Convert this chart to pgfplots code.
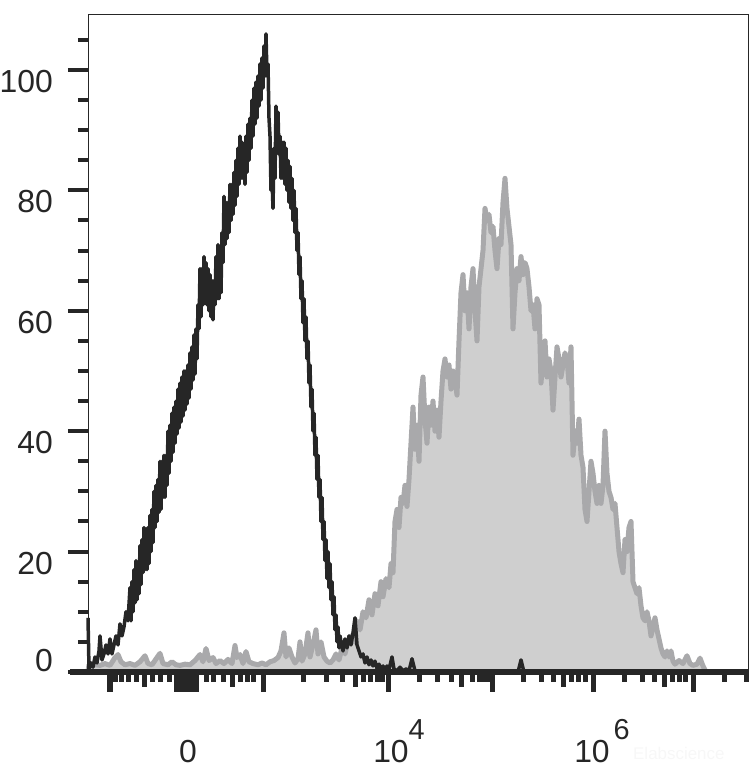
\documentclass[border=0pt]{standalone}
\usepackage{fontspec}
\setmainfont{Liberation Sans}
\usepackage{pgfplots}
\pgfplotsset{compat=1.18}
\definecolor{ink}{HTML}{262626}
\definecolor{gline}{HTML}{A9A9AB}
\definecolor{gfill}{HTML}{CFCFCF}
\begin{document}
\begin{tikzpicture}
\useasboundingbox (0,0) rectangle (756bp,780bp);
\begin{axis}[
  at={(88bp,108bp)}, anchor=south west,
  scale only axis, width=660bp, height=658bp,
  xmin=88, xmax=748, ymin=0, ymax=109.3,
  clip=false,
  axis line style={line width=0.8bp, color=ink},
  tick align=outside, xtick pos=bottom, ytick pos=left,
  tick style={line width=4.5bp, color=ink},
  xtick style={line width=5bp, color=ink},
  ytick style={line width=4bp, color=ink},
  major tick length=20bp, minor tick length=10bp,
  xtick={110,176,180,184,188,192,196,263,388,492,593,693},
  minor xtick={115,121,128,136,152,160,169,178,182,186,190,194,206,213,223,240,247,253,303,326,342,363,370,377,382,419,437,451,472,479,484,488,523,541,553,571,578,585,624,642,654,672,679,685,724,746},
  extra x ticks={144,232,355,461,563,664},
  extra x tick style={major tick length=15bp, xtick style={line width=5bp, color=ink}},
  extra x tick labels={},
  xticklabels={},
  ytick={0,20,40,60,80,100},
  minor ytick={5,10,15,25,30,35,45,50,55,65,70,75,85,90,95,105},
  yticklabels={},
]
% grey filled histogram
\addplot[draw=gline, fill=gfill, line width=5bp, line join=round] table {
x y
88 0
89 1.2
92 1.4
95 1.2
100 1.1
105 1.4
110 1.1
115 2.4
118 2.9
121 1.7
125 1.2
130 1.4
135 1.1
140 1.7
145 2.7
148 1.4
152 1.2
157 2.4
160 3.1
163 1.4
168 1.2
172 1.7
176 1.2
180 1.1
185 1.3
190 1.2
195 1.9
200 2.9
203 1.7
206 3.9
209 1.9
213 2.4
216 1.4
220 1.9
224 1.4
228 2.1
232 1.4
235 4.4
237 2.4
240 2.9
243 1.4
246 3.4
249 1.7
253 1.4
258 1.2
262 1.5
266 1.2
270 1.7
274 1.9
278 2.4
281 3.5
284 6.5
286 2.5
289 4
292 2.5
295 1.5
298 2.2
300 5
302 1.8
305 3
308 6.5
310 2.5
313 4.5
316 7
318 3
321 5
324 2.5
327 1.8
330 1.5
333 2
336 3
339 2
342 4
345 3
348 5
351 6
354 5
357 8.5
360 7
363 10
366 9
369 12
372 9.5
375 13
378 11
381 15
383 12.5
386 15.5
389 14
391 18
393 16.5
395 25
397 27
399 24
401 29
403 28
405 31
407 27.5
409 32
411 38
413 44
415 37
417 41
419 35
421 46
423 49
425 42
427 38
429 44
431 41
433 45
435 40
437 43.5
439 39
441 45
443 50
445 52
447 49
449 51
451 47
453 50
455 48.5
457 46
459 55
461 63
463 66
465 60
467 63
469 57
471 64
473 67
475 60
477 55
479 64
481 67
483 70
485 77
487 75
489 76
491 73
493 74
495 70
497 67
499 72
501 71
503 78
505 82
507 77
509 74
511 71
513 57
515 63
517 67
519 65
521 69
523 66
525 68
527 67
529 64
531 60
533 61
535 57
537 62
539 61
541 48
543 52
545 55
547 49
549 52
551 50
553 43.5
555 49
557 54
559 52
561 49
563 51
565 53
567 52
569 48
571 54
573 36
575 40
577 38
579 42
581 36
583 34
585 27
587 25
589 30
591 35
593 33
595 30
597 28
599 31
601 28
603 31
605 40
607 33
609 30
611 29
613 27
615 28
617 24
619 20
621 18
623 16.5
625 22
627 20
629 24
631 25
633 15
635 14
637 13
639 14
641 11
643 9
645 8.5
647 10
649 8.5
651 6
653 7.5
655 9
657 7
659 5.5
661 4
663 3
665 2.5
667 3.5
669 2.5
671 3.5
673 1.8
675 1.3
679 1.9
683 1.4
687 2.7
690 1.4
693 1.1
697 1.3
700 2.3
703 1
706 0
} \closedcycle;
% black open histogram
\addplot[draw=ink, line width=3.5bp, line join=round] table {
x y
88 9
89 0.5
91 1.5
93 0.8
95 2.5
97 1.5
99 3.5
100 6
102 2
104 3
106 4.5
108 3
110 5.5
112 3
114 4.5
116 6
118 4.5
120 8
122 6
124 7.5
126 10
128 8.5
130 14
131 8.5
132 15
133 10
134 17
135 11.5
136 18.5
137 12
138 18
139 13
140 21
141 14.5
142 22
143 16.5
144 24
145 17
146 23
147 17
148 24
149 18
150 26
151 20
152 27
153 21.5
154 30
155 24
156 31
157 25
158 32
159 26.5
160 35
161 27
162 35
163 29
164 36
165 29
166 36
167 31
168 40
169 33
170 41
171 35
172 43
173 36.5
174 44
175 38
176 45
177 39.5
178 47
179 40.5
180 48
181 41.5
182 49
183 42.5
184 50
185 43.5
186 50
187 44.5
188 51
189 45.5
190 53
191 47
192 54
193 48.5
194 56
195 49.5
196 57
197 52
198 61
199 57
200 67
201 59
202 67
203 61
204 69
205 61.5
206 68
207 61
208 67
209 60
210 66
211 59
212 65
213 58.5
214 65
215 61
216 69
217 62
218 71
219 62
220 68
221 63
222 73
223 68
224 79
225 71
226 78
227 72
228 78
229 73
230 81
231 75
232 81
233 76
234 83
235 77.5
236 85
237 79
238 87
239 81
240 89
241 82
242 88
243 82
244 87
245 81
246 89
247 83
248 91
249 85
250 92
251 87
252 95
253 89
254 97
255 91
256 98
257 92
258 99
259 94
260 101
261 95
262 102
263 97
264 104
265 99
266 106
267 99
268 101
269 92
270 89
271 80
272 82
273 77
274 87
275 82
276 94
277 87
278 93
279 86
280 89
281 82
282 88
283 82
284 88
285 81
286 87
287 80
288 85
289 78
290 84
291 77
292 82
293 75
294 80
295 73
296 77
297 70
298 73
299 66
300 69
301 62
302 65
303 58
304 62
305 55
306 59
307 52
308 55
309 48
310 51
311 44
312 47
313 40
314 43
315 36
316 39
317 32
318 36
319 29
320 32
321 25
322 29
323 22
324 25
325 18.5
326 22
327 15.5
328 20
329 14
330 18
331 12
332 15
333 9.5
334 12.5
335 7
336 9.5
337 5
338 7.5
339 4
340 6
341 5
343 3.5
345 5.5
347 4
349 6
351 4.5
353 6.5
355 9
357 4.5
359 3.5
361 2.5
363 3
365 1.5
367 2.5
369 1.2
371 2
373 1
375 1.8
377 0.6
379 1.3
381 0.5
383 1
385 0.3
387 1
389 0.4
392 2.5
394 0.5
397 0.2
400 0.8
403 0.2
406 0.5
409 0.2
412 2.2
415 0.2
420 0
518 0
521 2
524 0
700 0
};
% thick bottom axis line
\draw[line width=5bp, color=ink] (axis cs:70,0) -- (axis cs:748,0);
% y tick labels
\begin{scope}[every node/.style={inner sep=0pt, text=ink, font=\fontsize{32}{32}\selectfont}]
\node[anchor=south east, xshift=-35bp] at (axis cs:88,0) {0};
\node[anchor=north east, xshift=-35bp] at (axis cs:88,20) {20};
\node[anchor=north east, xshift=-35bp] at (axis cs:88,40) {40};
\node[anchor=north east, xshift=-35bp] at (axis cs:88,60) {60};
\node[anchor=north east, xshift=-35bp] at (axis cs:88,80) {80};
\node[anchor=north east, xshift=-35bp] at (axis cs:88,100) {100};
% x tick labels
\node[anchor=base, yshift=-90bp] at (axis cs:188,0) {0};
\node[anchor=base, yshift=-90bp] at (axis cs:391,0) {10\rlap{\raisebox{23bp}{\fontsize{29}{29}\selectfont 4}}};
\node[anchor=base, yshift=-90bp] at (axis cs:592,0) {10\rlap{\hspace{4bp}\raisebox{23bp}{\fontsize{29}{29}\selectfont 6}}};
\end{scope}
\node[anchor=base west, inner sep=0pt, text=black!3, font=\fontsize{17}{17}\selectfont, yshift=-87bp] at (axis cs:633,0) {Elabscience};
\end{axis}
\end{tikzpicture}
\end{document}
